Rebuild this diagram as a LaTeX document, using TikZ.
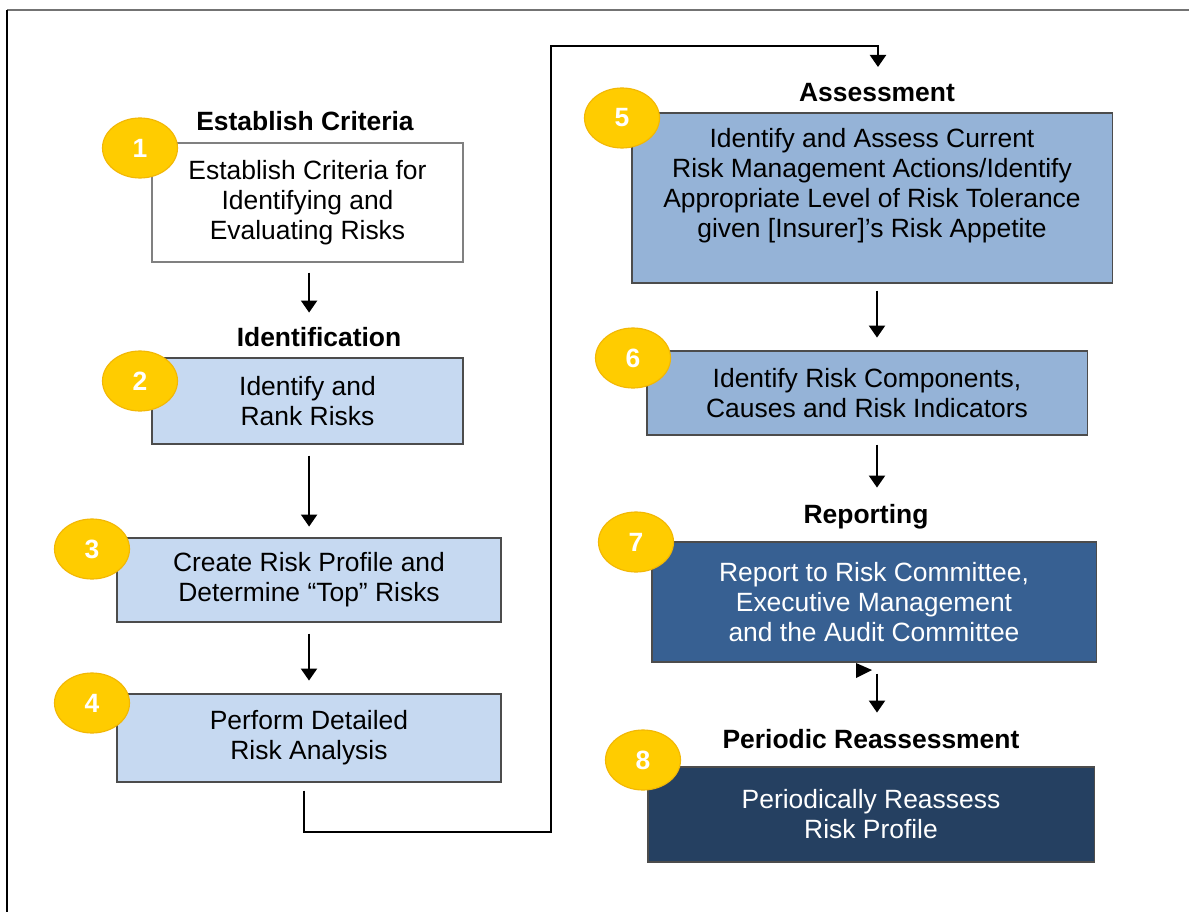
\documentclass[tikz,border=0pt]{standalone}
\usepackage{fontspec}
\setmainfont{Liberation Sans}
\usetikzlibrary{shapes.geometric,arrows.meta}

\definecolor{paleblue}{HTML}{C6D9F1}
\definecolor{midblue}{HTML}{95B3D7}
\definecolor{deepblue}{HTML}{376092}
\definecolor{navyblue}{HTML}{254061}
\definecolor{badgegold}{HTML}{FFCC00}
\definecolor{badgeedge}{HTML}{F2B705}

\tikzset{
  stepbox/.style={draw=black!70, line width=0.8pt, align=center, inner sep=0pt,
    font=\fontsize{18.8pt}{21.3pt}\selectfont},
  badge/.style={ellipse, fill=badgegold, draw=badgeedge, line width=0.8pt,
    minimum width=1.875cm, minimum height=1.5cm, inner sep=0pt, text=white,
    font=\fontsize{18.8pt}{21.3pt}\selectfont\bfseries},
  heading/.style={font=\fontsize{18.8pt}{21.3pt}\selectfont\bfseries},
  link/.style={line width=1.5pt, -{Triangle[width=0.4cm, length=0.3cm]}},
}

\begin{document}
\begin{tikzpicture}[x=0.025cm, y=-0.025cm]
\useasboundingbox (0, 0) rectangle (1189, 912);
\draw [line width=1.4pt, black!55] (7, 10) -- (1189, 10);
\draw [line width=2pt] (7, 10) -- (7, 912);

% left column
\node (crit-head) at (305, 121) [heading] {Establish Criteria};
\node (crit) at (307.5, 202.5) [stepbox, draw=black!50, fill=white, minimum width=7.775cm, minimum height=2.975cm] {Establish Criteria for\\Identifying and\\Evaluating Risks};
\node (ident-head) at (319, 337) [heading] {Identification};
\node (rank) at (307.5, 401) [stepbox, fill=paleblue, minimum width=7.775cm, minimum height=2.15cm] {Identify and\\Rank Risks};
\node (profile) at (309, 580) [stepbox, fill=paleblue, minimum width=9.6cm, minimum height=2.1cm] {Create Risk Profile and\\Determine “Top” Risks};
\node (analyse) at (309, 738) [stepbox, fill=paleblue, minimum width=9.6cm, minimum height=2.2cm] {Perform Detailed\\Risk Analysis};

% right column
\node (assess-head) at (877, 93) [heading] {Assessment};
\node (assess) at (872, 198) [stepbox, fill=midblue, minimum width=12cm, minimum height=4.25cm, text depth=0.75cm] {Identify and Assess Current\\Risk Management Actions/Identify\\Appropriate Level of Risk Tolerance\\given [Insurer]’s Risk Appetite};
\node (causes) at (867, 393) [stepbox, fill=midblue, minimum width=11cm, minimum height=2.1cm] {Identify Risk Components,\\Causes and Risk Indicators};
\node (report-head) at (866, 517) [heading] {Reporting};
\node (report) at (874, 602) [stepbox, fill=deepblue, text=white, minimum width=11.1cm, minimum height=3cm] {Report to Risk Committee,\\Executive Management\\and the Audit Committee};
\node (reassess-head) at (871, 739) [heading] {Periodic Reassessment};
\node (reassess) at (871, 814.5) [stepbox, fill=navyblue, text=white, minimum width=11.15cm, minimum height=2.375cm] {Periodically Reassess\\Risk Profile};

% numbered badges
\node (b1) at (140, 148) [badge] {1};
\node (b2) at (140, 381) [badge] {2};
\node (b3) at (92, 549) [badge] {3};
\node (b4) at (92, 703) [badge] {4};
\node (b5) at (622, 118) [badge] {5};
\node (b6) at (633, 358) [badge] {6};
\node (b7) at (636, 542) [badge] {7};
\node (b8) at (643, 760) [badge] {8};

% connectors
\draw [link] ([xshift=0.04cm, yshift=-0.25cm]crit.south) -- +(0, 40);
\draw [link] ([xshift=0.04cm, yshift=-0.275cm]rank.south) -- +(0, 71);
\draw [link] ([yshift=-0.275cm]profile.south) -- +(0, 47);
\coordinate (bend) at (551, 832);
\coordinate (over) at (551, 46);
\coordinate (drop) at (878, 67);
\draw [link] ([xshift=-0.125cm, yshift=-0.2cm]analyse.south) |- (bend) -- (over) -| (drop);
\draw [link] ([xshift=0.125cm, yshift=-0.175cm]assess.south) -- +(0, 47);
\draw [link] ([xshift=0.25cm, yshift=-0.225cm]causes.south) -- +(0, 43);
\draw [link] ([xshift=0.075cm, yshift=-0.275cm]report.south) -- +(0, 39);
\fill (856, 663) -- (872, 670) -- (856, 678) -- cycle;
\end{tikzpicture}
\end{document}
